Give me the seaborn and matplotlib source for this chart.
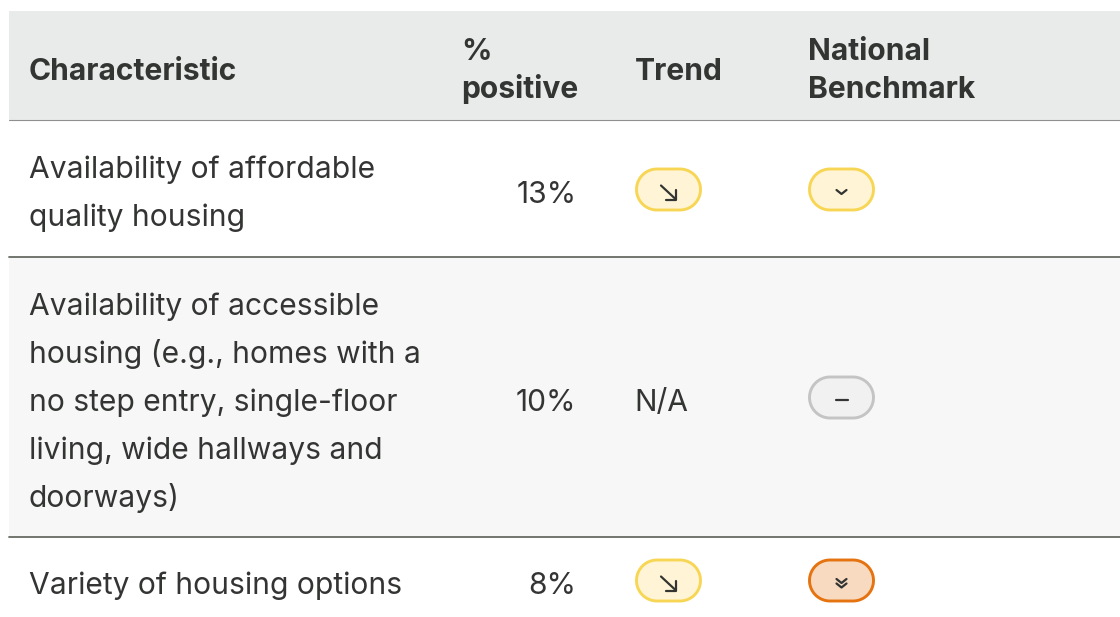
import matplotlib
matplotlib.use("Agg")
import matplotlib.pyplot as plt
from matplotlib.patches import Polygon, Rectangle
import numpy as np
import pandas as pd
import seaborn as sns

header_labels = ["Characteristic", "%\npositive", "Trend", "National\nBenchmark"]
characteristics = [
    "Availability of affordable\nquality housing",
    "Availability of accessible\nhousing (e.g., homes with a\nno step entry, single-floor\nliving, wide hallways and\ndoorways)",
    "Variety of housing options",
]
percent_positive = [13, 10, 8]
trend = ["down", "N/A", "down"]
benchmark = ["lower", "similar", "much lower"]

W, H = 1120, 617
PILL = {
    "down": ("#FFF5D6", "#F8D655"),
    "lower": ("#FFF5D6", "#F8D655"),
    "similar": ("#F1F1F1", "#C4C4C4"),
    "much lower": ("#F8DAC1", "#E5730F"),
}
GLYPH = {
    "down": [[(-7.5, -7), (7, 6.5)], [(-3, 7), (7, 7), (7, -3)]],
    "lower": [[(-5, -2.5), (0, 1.5), (5, -2.5)]],
    "similar": [[(-6, -0.5), (6, -0.5)]],
    "much lower": [[(-5, -4.5), (0, -0.5), (5, -4.5)], [(-5, 0), (0, 4), (5, 0)]],
}
INK = "#333533"
FONT = ["Inter", "DejaVu Sans"]

sns.set_theme(style="white")
plt.rcParams["font.family"] = FONT
fig = plt.figure(figsize=(W / 100, H / 100), dpi=100, facecolor="white")
ax = fig.add_axes([0, 0, 1, 1])
ax.set_xlim(0, W)
ax.set_ylim(H, 0)
ax.set_facecolor("white")
sns.despine(ax=ax, left=True, bottom=True)
ax.set_xticks([])
ax.set_yticks([])

ax.add_patch(Rectangle((9, 11), W - 9, 109, fc="#E9EBEA", ec="none", zorder=0))
ax.add_patch(Rectangle((9, 257), W - 9, 280, fc="#F7F7F7", ec="none", zorder=0))

rules = pd.DataFrame(
    {"x": [9, W, 9, W, 9, W], "y": [120.2, 120.2, 257, 257, 537, 537], "rule": [0, 0, 1, 1, 2, 2]}
)
sns.lineplot(data=rules[rules.rule == 0], x="x", y="y", color="#8E908E", lw=0.8, ax=ax, zorder=1)
sns.lineplot(data=rules[rules.rule > 0], x="x", y="y", units="rule", estimator=None,
             color="#666B62", lw=1.3, ax=ax, zorder=1)

HEAD = 21.6
BODY = 21.6
LINE = 48
HEAD_LINE = 38.5


def stacked(x, first_baseline, label, step, **kw):
    for i, line in enumerate(label.split("\n")):
        ax.text(x, first_baseline + i * step, line, va="baseline", ha="left", color=INK, **kw)


head_kw = dict(fontsize=HEAD, fontweight="bold")
stacked(29, 80, header_labels[0], HEAD_LINE, **head_kw)
stacked(461.5, 60, header_labels[1], HEAD_LINE, **head_kw)
stacked(634.5, 80, header_labels[2], HEAD_LINE, **head_kw)
stacked(808.5, 60, header_labels[3], HEAD_LINE, **head_kw)


def pill(cx, cy, half_w, r, fc, ec):
    t = np.linspace(-np.pi / 2, np.pi / 2, 40)
    right = np.column_stack([cx + half_w - r + r * np.cos(t), cy + r * np.sin(t)])
    left = np.column_stack([cx - half_w + r - r * np.cos(t), cy - r * np.sin(t)])
    return Polygon(np.vstack([right, left]), closed=True, fc=fc, ec=ec, lw=2.1, zorder=2)


label_base = [178.5, 315, 594]
num_base = [203, 411, 594]
pill_mid = [189.5, 397.5, 580.5]
segments = []
seg_id = 0
for label, pct, tr, bm, yb, nb, pm in zip(characteristics, percent_positive, trend, benchmark,
                                           label_base, num_base, pill_mid):
    stacked(29, yb, label, LINE, fontsize=BODY)
    ax.text(576.5, nb, f"{pct}%", fontsize=BODY, color=INK, va="baseline", ha="right")
    for key, cx in ((tr, 668.5), (bm, 841.5)):
        if key == "N/A":
            ax.text(634.5, nb, key, fontsize=BODY, color=INK, va="baseline", ha="left")
            continue
        fc, ec = PILL[key]
        ax.add_patch(pill(cx, pm, 32, 20.5, fc, ec))
        for part in GLYPH[key]:
            for dx, dy in part:
                segments.append({"x": cx + dx, "y": pm + dy + 3, "seg": seg_id})
            seg_id += 1

sns.lineplot(data=pd.DataFrame(segments), x="x", y="y", units="seg", estimator=None, sort=False,
             color=INK, lw=1.6, ax=ax, zorder=3, legend=False)
ax.set_xlabel("")
ax.set_ylabel("")
ax.set_xlim(0, W)
ax.set_ylim(H, 0)
fig.savefig("out.png", dpi=100, facecolor="white")
